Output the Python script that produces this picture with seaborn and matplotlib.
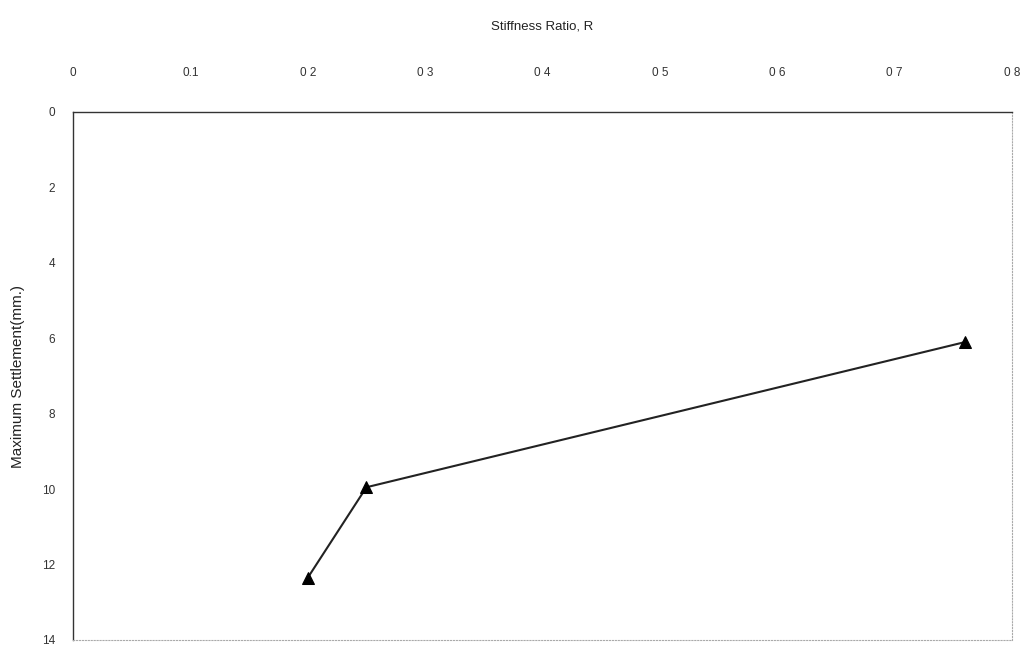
import matplotlib
matplotlib.use("Agg")
import matplotlib.pyplot as plt
import seaborn as sns
import pandas as pd

stiffness_ratio = [0.20, 0.25, 0.76]
max_settlement = [12.35, 9.95, 6.1]
x_ticks = [0, 0.1, 0.2, 0.3, 0.4, 0.5, 0.6, 0.7, 0.8]
x_tick_labels = ["0", "0.1", "0 2", "0 3", "0 4", "0 5", "0 6", "0 7", "0 8"]
y_ticks = [0, 2, 4, 6, 8, 10, 12, 14]

sns.set_theme(style="white")
plt.rcParams['font.family'] = ['Liberation Sans', 'DejaVu Sans']

df = pd.DataFrame({"R": stiffness_ratio, "S": max_settlement})

fig = plt.figure(figsize=(10.34, 6.46), dpi=100)
ax = fig.add_axes([73/1034, 1 - 640/646, (1012-73)/1034, (640-112)/646])

sns.lineplot(data=df, x="R", y="S", ax=ax, color="#222222", linewidth=1.5,
             marker="^", markersize=8, markerfacecolor="black",
             markeredgecolor="black", sort=False)

ax.set_xlim(0, 0.8)
ax.set_ylim(14, 0)
ax.xaxis.tick_top()
ax.xaxis.set_label_position("top")
ax.set_xticks(x_ticks)
ax.set_xticklabels(x_tick_labels)
ax.set_yticks(y_ticks)
ax.tick_params(axis="x", length=0, pad=24, labelsize=8.5, colors="#333333")
ax.tick_params(axis="y", length=0, pad=13, labelsize=8.5, colors="#333333")
ax.set_xlabel("Stiffness Ratio, R", fontsize=9.5, labelpad=27, color="#222222")
ax.set_ylabel("Maximum Settlement(mm.)", fontsize=11, labelpad=12, color="#222222")
ax.grid(False)

for side in ["top", "left"]:
    ax.spines[side].set_color("#333333")
    ax.spines[side].set_linewidth(1.0)
for side in ["right", "bottom"]:
    ax.spines[side].set_color("#aaaaaa")
    ax.spines[side].set_linewidth(0.8)
    ax.spines[side].set_linestyle(":")

fig.savefig("out.png", dpi=100)
